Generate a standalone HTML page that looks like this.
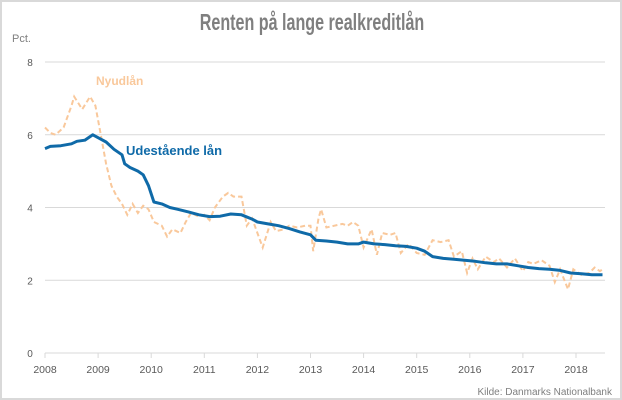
<!DOCTYPE html>
<html><head><meta charset="utf-8"><style>
body{margin:0;background:#fff}
svg{display:block;font-family:"Liberation Sans",sans-serif}
</style></head><body>
<svg id="chart" width="622" height="400">
<rect x="1" y="1" width="620" height="398" fill="#fff" stroke="#d9d9d9" stroke-width="2"/>
<text x="312" y="30" text-anchor="middle" font-size="23" font-weight="bold" fill="#7f7f7f" transform="translate(312,0) scale(0.7,1) translate(-312,0)">Renten på lange realkreditlån</text>
<text x="12" y="42" font-size="11" fill="#7f7f7f">Pct.</text>
<text x="612" y="395" text-anchor="end" font-size="10" fill="#7f7f7f">Kilde: Danmarks Nationalbank</text>
<g id="grid"></g><g id="series"></g>
<text x="96" y="85" font-size="12" font-weight="bold" fill="#f9c89b">Nyudlån</text>
<text x="126" y="155" font-size="13" font-weight="bold" fill="#0f6aa8">Udestående lån</text>
</svg>
<script>
const yTicks=[0,2,4,6,8];
const xTicks=[2008,2009,2010,2011,2012,2013,2014,2015,2016,2017,2018];
const blueDates=[2008.0,2008.1,2008.3,2008.5,2008.6,2008.75,2008.9,2009.0,2009.15,2009.3,2009.45,2009.5,2009.6,2009.75,2009.85,2009.95,2010.05,2010.2,2010.35,2010.5,2010.7,2010.9,2011.1,2011.3,2011.5,2011.7,2011.9,2012.0,2012.2,2012.4,2012.6,2012.8,2013.0,2013.1,2013.3,2013.5,2013.7,2013.9,2014.0,2014.2,2014.4,2014.6,2014.8,2015.0,2015.15,2015.3,2015.5,2015.7,2015.9,2016.1,2016.3,2016.5,2016.7,2016.9,2017.1,2017.3,2017.5,2017.7,2017.9,2018.1,2018.3,2018.5];
const blueValues=[5.62,5.68,5.7,5.75,5.82,5.85,6.0,5.92,5.8,5.6,5.45,5.2,5.1,5.0,4.9,4.6,4.15,4.1,4.0,3.95,3.88,3.8,3.75,3.76,3.82,3.8,3.68,3.6,3.55,3.5,3.42,3.33,3.25,3.1,3.08,3.05,3.0,3.0,3.05,3.0,2.98,2.95,2.93,2.88,2.8,2.65,2.6,2.58,2.55,2.52,2.48,2.45,2.45,2.4,2.35,2.32,2.3,2.27,2.2,2.18,2.15,2.15];
const orangeDates=[2008.0,2008.1,2008.2,2008.35,2008.5,2008.55,2008.7,2008.85,2008.95,2009.05,2009.15,2009.25,2009.35,2009.45,2009.55,2009.65,2009.75,2009.85,2009.95,2010.05,2010.2,2010.3,2010.4,2010.55,2010.65,2010.75,2010.9,2011.0,2011.1,2011.2,2011.35,2011.45,2011.55,2011.7,2011.8,2011.9,2012.0,2012.1,2012.25,2012.35,2012.5,2012.6,2012.75,2012.9,2013.0,2013.05,2013.15,2013.2,2013.3,2013.45,2013.6,2013.7,2013.8,2013.9,2014.0,2014.15,2014.25,2014.35,2014.5,2014.6,2014.7,2014.85,2015.0,2015.15,2015.3,2015.45,2015.6,2015.7,2015.85,2015.95,2016.05,2016.15,2016.3,2016.45,2016.55,2016.7,2016.85,2017.0,2017.1,2017.2,2017.35,2017.5,2017.6,2017.7,2017.85,2017.95,2018.1,2018.25,2018.35,2018.45,2018.5];
const orangeValues=[6.2,6.05,6.0,6.2,6.8,7.05,6.7,7.05,6.8,6.0,5.2,4.6,4.3,4.1,3.8,4.1,3.85,4.05,3.95,3.6,3.5,3.2,3.4,3.3,3.6,3.85,3.75,3.8,3.65,4.0,4.3,4.4,4.3,4.3,3.5,3.7,3.3,2.9,3.6,3.35,3.4,3.5,3.45,3.5,3.5,2.8,3.7,3.95,3.45,3.5,3.55,3.5,3.6,3.5,2.9,3.4,2.7,3.3,3.25,3.3,2.75,3.0,2.75,2.7,3.1,3.05,3.1,2.65,2.8,2.2,2.6,2.3,2.65,2.5,2.6,2.35,2.6,2.25,2.5,2.45,2.55,2.4,1.95,2.3,1.75,2.3,2.15,2.2,2.35,2.25,2.3];
const NS='http://www.w3.org/2000/svg';
const X0=45,X1=576,Y0=353,Y8=62,XR=605;
const xs=d=>X0+(d-2008)*(X1-X0)/10;
const ys=v=>Y0+(Y8-Y0)*v/8;
const grid=document.getElementById('grid'),ser=document.getElementById('series');
function mk(tag,attrs,parent){const e=document.createElementNS(NS,tag);for(const k in attrs)e.setAttribute(k,attrs[k]);parent.appendChild(e);return e;}
yTicks.forEach(v=>{
 const l=mk('line',{x1:X0,x2:XR,y1:ys(v),y2:ys(v),stroke:'#d9d9d9','stroke-width':1},grid);
 
 
 const t=mk('text',{x:30,y:ys(v)+4,'text-anchor':'middle','font-size':10,fill:'#595959'},grid);
 t.textContent=v;
 
 
});
xTicks.forEach(y=>{
 const l=mk('line',{x1:xs(y),x2:xs(y),y1:Y0,y2:Y0+5,stroke:'#d9d9d9'},grid);
 
 
 const t=mk('text',{x:xs(y),y:373,'text-anchor':'middle','font-size':10.5,fill:'#595959'},grid);
 t.textContent=y;
 
 
});
function path(ds,vs){return ds.map((d,i)=>(i?'L':'M')+xs(d).toFixed(1)+','+ys(vs[i]).toFixed(1)).join('');}
const o=mk('path',{d:path(orangeDates,orangeValues),fill:'none',stroke:'#f9c89b','stroke-width':2,'stroke-dasharray':'5,3'},ser);


const b=mk('path',{d:path(blueDates,blueValues),fill:'none',stroke:'#0f6aa8','stroke-width':3,'stroke-linejoin':'round'},ser);


</script>
</body></html>
